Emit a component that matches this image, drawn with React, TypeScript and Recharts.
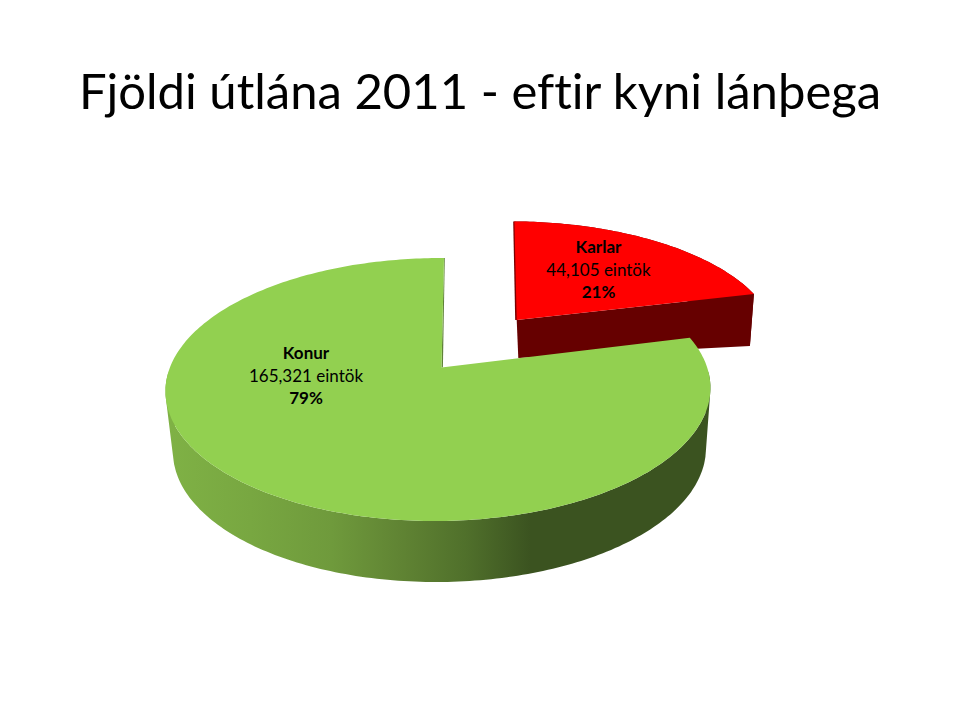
import { PieChart, Pie, Cell } from "recharts";

const categories = ["Karlar", "Konur"];
const copies = [44105, 165321];
const shares = ["21%", "79%"];
const topColors = ["#ff0000", "#92d050"];
const title = "Fjöldi útlána 2011 - eftir kyni lánþega";

const data = categories.map((name, i) => ({ name, value: copies[i], share: shares[i] }));

// the PowerPoint pie sits on a tilted plane, so map the flat disc through a perspective
const APEX_X = 441.5;
const APEX_Y = 367.5;
const SCALE_X = 268.6;
const SCALE_Y = 127.8;
const SHEAR = 3;
const TILT_V = 0.1673;
const TILT_U = 0.011;

type Pt = { x: number; y: number };

const project = (u: number, v: number): Pt => {
  const w = 1 + TILT_V * v + TILT_U * u;
  return { x: APEX_X + (SCALE_X * u + SHEAR * v) / w, y: APEX_Y - (SCALE_Y * v) / w };
};

// the pulled-out slice does not follow the same perspective, it is nudged in screen space
const explode = (p: Pt): Pt => {
  const dx = p.x - APEX_X;
  const dy = p.y - APEX_Y;
  return { x: 516.7 + 0.9604 * dx + 0.0426 * dy, y: 320 + 0.0035 * dx + 0.901 * dy };
};

const toPath = (pts: Pt[]) =>
  "M" + pts.map((p) => `${p.x.toFixed(1)},${p.y.toFixed(1)}`).join("L") + "Z";

// bottom rim of each slice, fitted on the wall corners
const dropKarlar = (p: Pt): Pt => {
  const t = (p.x - 517) / 237;
  return { x: p.x + 1.6 - 5.6 * t, y: p.y + 38 + 14 * t };
};
const dropKonur = (p: Pt): Pt => ({
  x: 439.5 + 0.978 * (p.x - 438),
  y: 450 + 1.004 * (p.y - 389.5),
});

// one quad per step, all wound the same way so the union has no holes at the silhouette
const sweptWall = (rim: Pt[], drop: (p: Pt) => Pt) => {
  let d = "";
  for (let i = 0; i < rim.length - 1; i++) {
    const q = [rim[i], rim[i + 1], drop(rim[i + 1]), drop(rim[i])];
    let area = 0;
    q.forEach((p, j) => {
      const n = q[(j + 1) % 4];
      area += p.x * n.y - n.x * p.y;
    });
    d += toPath(area < 0 ? q.reverse() : q);
  }
  return d;
};

const Slice3D = (props: any) => {
  const { startAngle, endAngle, fill, payload, name } = props;
  const isKarlar = (payload?.name ?? name) === "Karlar";
  const place = (p: Pt) => (isKarlar ? explode(p) : p);
  const drop = isKarlar ? dropKarlar : dropKonur;

  const rim: Pt[] = [];
  const steps = Math.ceil(Math.abs(endAngle - startAngle));
  for (let i = 0; i <= steps; i++) {
    const a = ((startAngle + ((endAngle - startAngle) * i) / steps) * Math.PI) / 180;
    rim.push(place(project(Math.cos(a), Math.sin(a))));
  }
  const apex = place(project(0, 0));
  const rimFirst = rim[0];
  const rimLast = rim[rim.length - 1];

  // back half of the big slice is hidden, and would poke out at the cut
  const wallRim = isKarlar ? rim : rim.filter((p) => p.y > 370);
  const cut = [rimFirst, apex, drop(apex), drop(rimFirst)];
  // the thin dark sliver along the vertical cut
  const sliver = isKarlar
    ? [
        { x: rimLast.x - 1.2, y: rimLast.y },
        { x: apex.x - 1.5, y: apex.y },
        { x: apex.x + 1, y: apex.y },
        { x: rimLast.x + 1, y: rimLast.y },
      ]
    : [
        { x: rimFirst.x + 0.8, y: rimFirst.y },
        { x: apex.x + 1.4, y: apex.y },
        { x: apex.x, y: apex.y },
        { x: rimFirst.x, y: rimFirst.y },
      ];

  return (
    <g>
      {!isKarlar && (
        <defs>
          <linearGradient id="konurWall" gradientUnits="userSpaceOnUse" x1={170} x2={708} y1={0} y2={0}>
            <stop offset="0" stopColor="#7fb145" />
            <stop offset="0.15" stopColor="#78a741" />
            <stop offset="0.3" stopColor="#6f9a3c" />
            <stop offset="0.42" stopColor="#618534" />
            <stop offset="0.55" stopColor="#50702b" />
            <stop offset="0.67" stopColor="#3b5320" />
            <stop offset="1" stopColor="#3b5320" />
          </linearGradient>
        </defs>
      )}
      <path d={sweptWall(wallRim, drop)} fill={isKarlar ? "#660000" : "url(#konurWall)"} />
      {isKarlar && <path d={toPath(cut)} fill="#660000" />}
      <path d={toPath(sliver)} fill={isKarlar ? "#7a0000" : "#5f8238"} />
      <path d={toPath([apex, ...rim])} fill={fill} />
    </g>
  );
};

// label centres on the page, picked by eye from the slide
const labelSpot: Record<string, { x: number; y: number }> = {
  Karlar: { x: 598.5, y: 247 },
  Konur: { x: 306, y: 353 },
};

const SliceLabel = (props: any) => {
  const { name, value, share } = props.payload ?? props;
  const spot = labelSpot[name];
  if (!spot) return null;
  return (
    <text x={spot.x} textAnchor="middle" fontFamily="Lato" fontSize={17} fill="#000">
      <tspan x={spot.x} y={spot.y + 6} fontWeight="bold">
        {name}
      </tspan>
      <tspan x={spot.x} y={spot.y + 28.5}>
        {value.toLocaleString("en-US")} eintök
      </tspan>
      <tspan x={spot.x} y={spot.y + 51} fontWeight="bold">
        {share}
      </tspan>
    </text>
  );
};

export default function App() {
  return (
    <div style={{ position: "absolute", left: 0, top: 0, width: 960, height: 720, background: "#fff" }}>
      <div
        style={{
          position: "absolute",
          left: 0,
          top: 58,
          width: 960,
          textAlign: "center",
          fontFamily: "Lato",
          fontSize: 49,
          lineHeight: "64px",
          color: "#000",
          whiteSpace: "nowrap",
          fontVariantLigatures: "none",
        }}
      >
        {title}
      </div>
      <PieChart width={960} height={720} margin={{ top: 0, right: 0, bottom: 0, left: 0 }}>
        <Pie
          data={data}
          dataKey="value"
          nameKey="name"
          cx={APEX_X}
          cy={APEX_Y}
          outerRadius={130}
          startAngle={14.2}
          endAngle={374.2}
          stroke="none"
          shape={Slice3D}
          label={SliceLabel}
          labelLine={false}
          isAnimationActive={false}
        >
          {data.map((d, i) => (
            <Cell key={d.name} fill={topColors[i]} />
          ))}
        </Pie>
      </PieChart>
    </div>
  );
}
